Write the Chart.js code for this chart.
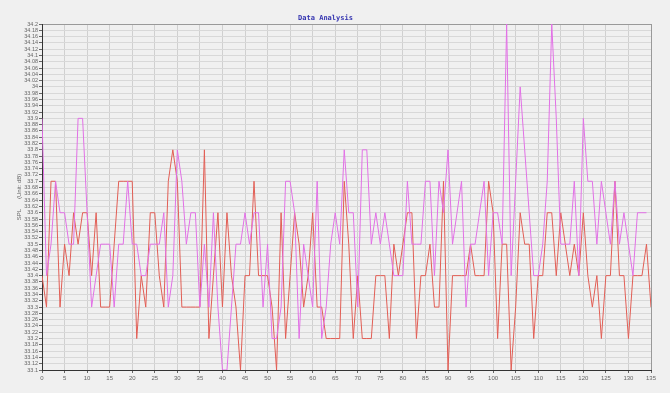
<!DOCTYPE html>
<html>
<head>
<meta charset="utf-8">
<script src="https://cdn.jsdelivr.net/npm/chart.js@4/dist/chart.umd.min.js"></script>
<style>
html,body{margin:0;padding:0;background:#f0f0f0;}
#wrap{width:670px;height:393px;}
canvas{background:#f0f0f0;}
</style>
</head>
<body>
<div id="wrap"><canvas id="c" width="670" height="393"></canvas></div>
<script>
const chartTitle = "Data Analysis";
const yAxisTitle = "SPL      (Unit: dB)";
const xMin = 0, xMax = 135, xStep = 5;
const yMin = 33.1, yMax = 34.2, yStep = 0.02;

const redValues = [
33.4,33.3,33.7,33.7,33.3,33.5,33.4,33.6,33.5,33.6,
33.6,33.4,33.6,33.3,33.3,33.3,33.5,33.7,33.7,33.7,
33.7,33.2,33.4,33.3,33.6,33.6,33.4,33.3,33.7,33.8,
33.7,33.3,33.3,33.3,33.3,33.3,33.8,33.2,33.4,33.6,
33.3,33.6,33.4,33.3,33.1,33.4,33.4,33.7,33.4,33.4,
33.4,33.3,33.1,33.6,33.2,33.4,33.6,33.5,33.3,33.4,
33.6,33.3,33.3,33.2,33.2,33.2,33.2,33.7,33.5,33.2,
33.4,33.2,33.2,33.2,33.4,33.4,33.4,33.2,33.5,33.4,
33.5,33.6,33.6,33.2,33.4,33.4,33.5,33.3,33.3,33.7,
33.1,33.4,33.4,33.4,33.4,33.5,33.4,33.4,33.4,33.7,
33.6,33.2,33.5,33.5,33.1,33.3,33.6,33.5,33.5,33.2,
33.4,33.4,33.6,33.6,33.4,33.6,33.5,33.4,33.5,33.4,
33.6,33.4,33.3,33.4,33.2,33.4,33.4,33.7,33.4,33.4,
33.2,33.4,33.4,33.4,33.5,33.3
];

const pinkValues = [
33.9,33.4,33.5,33.7,33.6,33.6,33.5,33.5,33.9,33.9,
33.6,33.3,33.4,33.5,33.5,33.5,33.3,33.5,33.5,33.7,
33.5,33.5,33.4,33.4,33.5,33.5,33.5,33.6,33.3,33.4,
33.8,33.7,33.5,33.6,33.6,33.3,33.5,33.3,33.6,33.3,
33.1,33.1,33.3,33.5,33.5,33.6,33.5,33.6,33.6,33.3,
33.5,33.2,33.2,33.3,33.7,33.7,33.6,33.2,33.5,33.4,
33.3,33.7,33.2,33.3,33.5,33.6,33.5,33.8,33.6,33.6,
33.3,33.8,33.8,33.5,33.6,33.5,33.6,33.5,33.4,33.4,
33.4,33.7,33.5,33.5,33.5,33.7,33.7,33.4,33.7,33.6,
33.8,33.5,33.6,33.7,33.3,33.5,33.5,33.6,33.7,33.4,
33.6,33.6,33.5,34.2,33.4,33.7,34.0,33.8,33.6,33.4,
33.4,33.5,33.7,34.2,33.9,33.5,33.5,33.5,33.7,33.4,
33.9,33.7,33.7,33.5,33.7,33.6,33.5,33.7,33.5,33.6,
33.5,33.4,33.6,33.6,33.6
];

const toPoints = arr => arr.map((v, i) => ({x: i, y: v}));
const fmt = v => String(parseFloat(Number(v).toFixed(2)));

new Chart(document.getElementById('c'), {
  type: 'line',
  data: {
    datasets: [
      {label: 'Series 2', data: toPoints(pinkValues), borderColor: '#e270e6', borderWidth: 1, pointRadius: 0, tension: 0, fill: false},
      {label: 'Series 1', data: toPoints(redValues), borderColor: '#e25e55', borderWidth: 1, pointRadius: 0, tension: 0, fill: false}
    ]
  },
  options: {
    responsive: false,
    animation: false,
    layout: {padding: {left: 0, right: 19, top: 0, bottom: 0}},
    plugins: {
      legend: {display: false},
      tooltip: {enabled: false},
      title: {
        display: true, text: chartTitle, color: '#3434b0',
        font: {family: 'DejaVu Sans Mono', size: 7, weight: 'bold'},
        padding: {top: 14, bottom: 1.6}
      }
    },
    scales: {
      x: {
        type: 'linear', min: xMin, max: xMax,
        afterFit: s => { s.height = 23; },
        ticks: {stepSize: xStep, autoSkip: false, maxRotation: 0, color: '#666', padding: 2,
          font: {family: 'Liberation Sans', size: 6}},
        grid: {color: ctx => ctx.tick && ctx.tick.value === xMax ? '#999' : '#d0d0d0', tickLength: 3, tickColor: '#666', lineWidth: 1},
        border: {display: true, color: '#333', width: 1}
      },
      y: {
        min: yMin, max: yMax,
        afterFit: s => { s.width = 42; },
        ticks: {stepSize: yStep, autoSkip: false, color: '#666', padding: 1,
          font: {family: 'Liberation Sans', size: 5.5},
          callback: v => fmt(v)},
        title: {display: true, text: yAxisTitle, color: '#666',
          font: {family: 'Liberation Sans', size: 6}, padding: {top: 16, bottom: 0}},
        grid: {color: ctx => ctx.tick && Math.abs(ctx.tick.value - yMax) < 1e-6 ? '#999' : '#d8d8d8', tickLength: 3, tickColor: '#666', lineWidth: 1},
        border: {display: true, color: '#333', width: 1}
      }
    }
  }
});
</script>
</body>
</html>
